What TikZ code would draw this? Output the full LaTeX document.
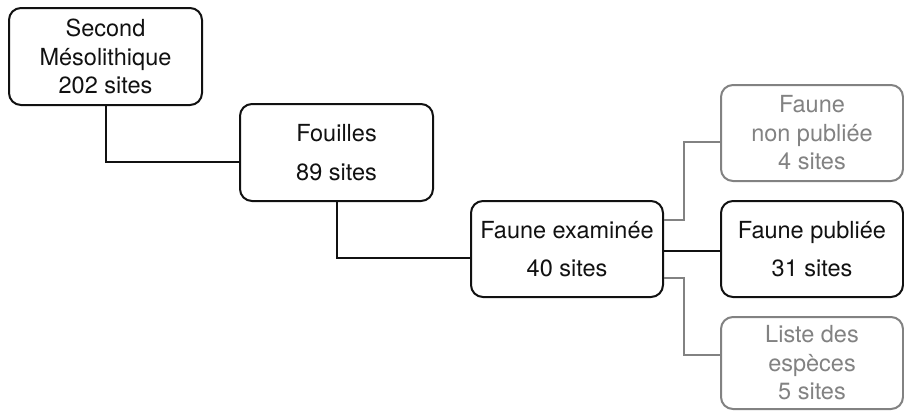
\documentclass[tikz,border=0pt]{standalone}
\usepackage{fontspec}
\setmainfont{TeX Gyre Heros}
\definecolor{lgray}{RGB}{130,130,130}
\definecolor{ink}{RGB}{17,17,17}
\begin{document}
\begin{tikzpicture}[x=1pt,y=-1pt,
  box/.style={draw=ink,line width=2pt,rounded corners=12pt,fill=white,inner sep=0pt,
    minimum width=192pt,minimum height=96pt,align=center,text=ink},
  three/.style={font=\fontsize{23.5}{28.5}\selectfont},
  two/.style={font=\fontsize{23.5}{38.5}\selectfont},
  grey/.style={draw=lgray,text=lgray},
  wire/.style={line width=2pt,draw=ink},
  gwire/.style={line width=2pt,draw=lgray}]
\useasboundingbox (0,0) rectangle (904,410);
\node[box,three,minimum width=193pt,minimum height=97pt] (b1) at (105.5,56.5) {Second\\Mésolithique\\202 sites};
\node[box,two,minimum width=193pt,minimum height=97pt] (b2) at (336.5,152.5) {Fouilles\\89 sites};
\node[box,two] (b3) at (567,249) {Faune examinée\\40 sites};
\node[box,three,grey,minimum width=182pt] (b4) at (812,133) {Faune\\non publiée\\4 sites};
\node[box,two,minimum width=182pt] (b5) at (812,249) {Faune publiée\\31 sites};
\node[box,three,grey,minimum width=182pt,minimum height=92pt] (b6) at (812,363) {Liste des\\espèces\\5 sites};
\draw[wire] (b1.south) |- ([yshift=-9.5pt]b2.west);
\draw[wire] (b2.south) |- ([yshift=-9pt]b3.west);
\draw[wire] ([yshift=-2pt]b3.east) -- ([yshift=-2pt]b5.west);
\draw[gwire] ([yshift=29pt]b3.east) -- ++(20,0) |- ([yshift=-9pt]b4.west);
\draw[gwire] ([yshift=-29pt]b3.east) -- ++(20,0) |- ([yshift=8pt]b6.west);
\end{tikzpicture}
\end{document}
